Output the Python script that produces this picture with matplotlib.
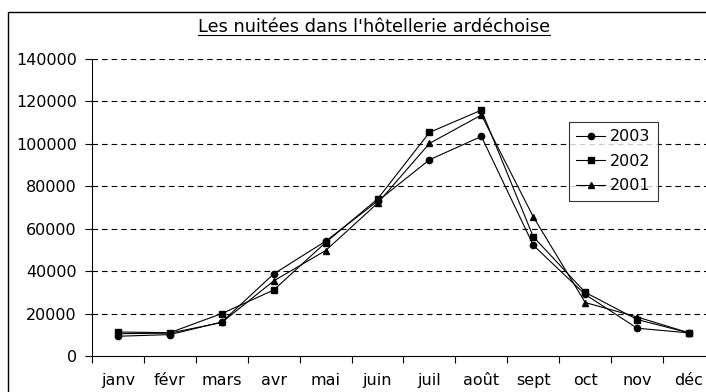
import matplotlib
matplotlib.use("Agg")
import matplotlib.pyplot as plt
from matplotlib.lines import Line2D
from matplotlib.patches import Rectangle

months = ["janv", "févr", "mars", "avr", "mai", "juin",
          "juil", "août", "sept", "oct", "nov", "déc"]
nuitees_2003 = [9300, 10100, 16000, 38700, 54100, 73000,
                92500, 103500, 52200, 29000, 13100, 10900]
nuitees_2002 = [11300, 11000, 20000, 31100, 53500, 74000,
                105400, 115900, 56200, 30000, 17200, 10900]
nuitees_2001 = [10500, 10800, 15800, 35400, 49700, 72000,
                100200, 113600, 65600, 25200, 18400, 10900]
yticks = [0, 20000, 40000, 60000, 80000, 100000, 120000, 140000]
title = "Les nuitées dans l'hôtellerie ardéchoise"

W, H = 706, 392
plt.rcParams["font.family"] = ["DejaVu Sans"]
fs = 11.5

fig = plt.figure(figsize=(W / 100, H / 100), dpi=100)
fig.patch.set_facecolor("white")

# outer chart frame
fig.patches.append(Rectangle((8 / W, -0.2), 1.2, 1 - 12 / H + 0.2,
                             transform=fig.transFigure, fill=False,
                             edgecolor="black", linewidth=1.0))

ax = fig.add_axes([92 / W, 36 / H, (715 - 92) / W, (356 - 59) / H])
ax.set_facecolor("none")

x = list(range(len(months)))
style = dict(color="black", linewidth=0.8, markersize=4.5)
ax.plot(x, nuitees_2003, marker="o", label="2003", **style)
ax.plot(x, nuitees_2002, marker="s", label="2002", **style)
ax.plot(x, nuitees_2001, marker="^", label="2001", **style)

ax.set_xlim(-0.5, len(months) - 0.5)
ax.set_ylim(0, 140000)
ax.set_yticks(yticks)
ax.set_yticklabels([str(v) for v in yticks], fontsize=fs)
ax.set_xticks([i - 0.5 for i in x], minor=False)
ax.set_xticklabels([])
ax.set_xticks(x, minor=True)
ax.set_xticklabels(months, minor=True, fontsize=fs)
ax.tick_params(axis="x", which="minor", length=0, pad=12)
ax.tick_params(axis="x", which="major", length=5, width=0.8, direction="out")
ax.tick_params(axis="y", length=5, width=0.8, direction="out", pad=6)

for v in yticks[1:]:
    ax.axhline(v, color="black", linewidth=0.8, dashes=(5, 3.6), zorder=0)

for s in ("top", "right"):
    ax.spines[s].set_visible(False)
for s in ("left", "bottom"):
    ax.spines[s].set_linewidth(0.8)

leg = ax.legend(loc="upper left", bbox_to_anchor=(569 / W, 1 - 122 / H),
                bbox_transform=fig.transFigure, fontsize=fs,
                fancybox=False, frameon=True, edgecolor="black",
                handlelength=1.8, handletextpad=0.3, labelspacing=0.6,
                borderpad=0.45, borderaxespad=0)
leg.get_frame().set_linewidth(0.8)

t = fig.text(374 / W, 1 - 27 / H, title, ha="center", va="center", fontsize=12.8)
fig.canvas.draw()
bb = t.get_window_extent()
uy = bb.y0 + 1
fig.add_artist(Line2D([bb.x0 / W, bb.x1 / W], [uy / H, uy / H],
                      transform=fig.transFigure, color="black", linewidth=0.8))

fig.savefig("out.png", dpi=100)
